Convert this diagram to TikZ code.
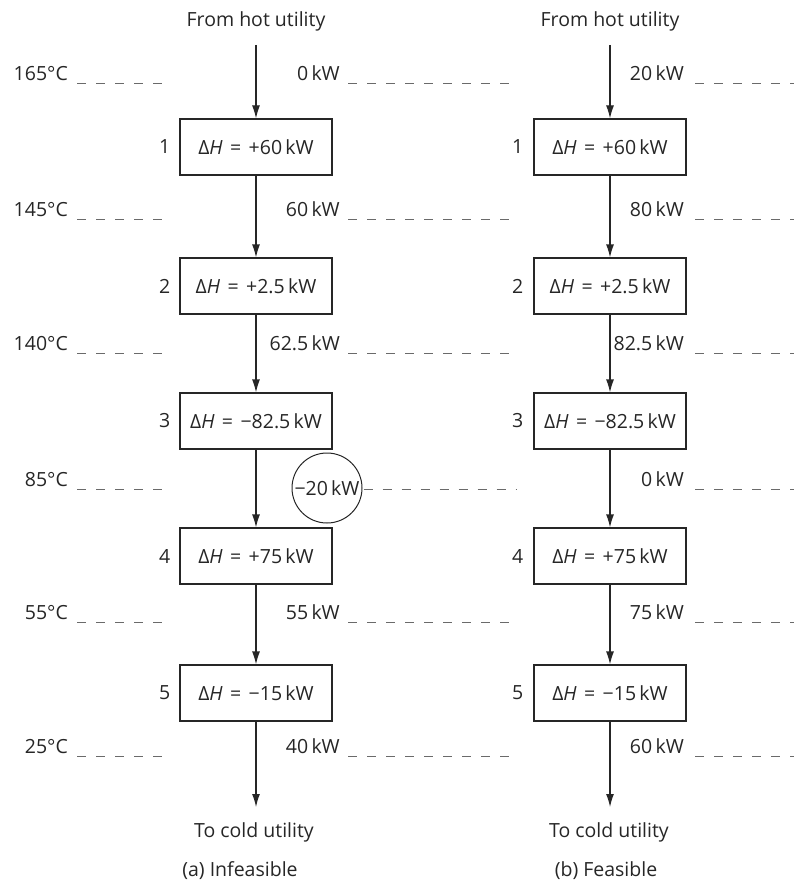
\documentclass[tikz,border=0pt]{standalone}
\usepackage{fontspec}
\setmainfont{Open Sans}
\usetikzlibrary{arrows.meta}
\definecolor{txt}{HTML}{262626}
\definecolor{lvl}{HTML}{6a6a6a}
\newcommand{\dH}[1]{Δ\textit{H}\hspace{0.38em}=\hspace{0.38em}#1\,kW}
\begin{document}
\begin{tikzpicture}[x=1pt,y=-1pt,
  font=\fontsize{19.5}{23}\selectfont, text=txt,
  box/.style={draw=txt, line width=1.2pt, minimum width=152pt, minimum height=56pt, inner sep=0pt},
  flow/.style={draw=txt, line width=1.2pt, -{Latex[length=13pt,width=8pt]}},
  lev/.style={draw=lvl, line width=1pt, dash pattern=on 9pt off 10pt},
  lab/.style={anchor=base east, inner sep=0pt},
  num/.style={anchor=east, inner sep=0pt},
  ttl/.style={anchor=base, inner sep=0pt},
  ring/.style={draw=txt, line width=1pt, circle, minimum size=70pt, inner sep=0pt}]
\useasboundingbox (0,0) rectangle (794,880);

% titles
\node[ttl] (ha) at (256,27) {From hot utility};
\node[ttl] (hb) at (610,27) {From hot utility};
\node[ttl] (ca) at (254,837) {To cold utility};
\node[ttl] (cb) at (609,837) {To cold utility};
\node[ttl] (sa) at (240,876) {(a) Infeasible};
\node[ttl] (sb) at (606,876) {(b) Feasible};

% boxes, column a
\node[box] (a1) at (256,147) {\dH{+60}};
\node[box] (a2) at (256,286) {\dH{+2.5}};
\node[box] (a3) at (256,421) {\dH{−82.5}};
\node[box] (a4) at (256,556) {\dH{+75}};
\node[box] (a5) at (256,693) {\dH{−15}};
% boxes, column b
\node[box] (b1) at (610,147) {\dH{+60}};
\node[box] (b2) at (610,286) {\dH{+2.5}};
\node[box] (b3) at (610,421) {\dH{−82.5}};
\node[box] (b4) at (610,556) {\dH{+75}};
\node[box] (b5) at (610,693) {\dH{−15}};

% interval numbers
\foreach \i in {1,...,5} {
  \node[num] (na\i) at ([xshift=-9pt]a\i.west) {\i};
  \node[num] (nb\i) at ([xshift=-10pt]b\i.west) {\i};
}

% flow arrows
\coordinate (sa0) at (256,45);
\coordinate (sb0) at (610,45);
\coordinate (ea0) at (256,807);
\coordinate (eb0) at (610,807);
\draw[flow] (sa0) -- (a1);
\draw[flow] (a1) -- (a2);
\draw[flow] (a2) -- (a3);
\draw[flow] (a3) -- (a4);
\draw[flow] (a4) -- (a5);
\draw[flow] (a5) -- (ea0);
\draw[flow] (sb0) -- (b1);
\draw[flow] (b1) -- (b2);
\draw[flow] (b2) -- (b3);
\draw[flow] (b3) -- (b4);
\draw[flow] (b4) -- (b5);
\draw[flow] (b5) -- (eb0);

% temperature levels
\foreach \y/\t/\qb [count=\k] in {84/165/20, 219/145/80, 353/140/82.5, 489/85/0, 622/55/75, 756/25/60} {
  \node[lab] (tt\k) at (68,\y-3) {\t°C};
  \draw[lev] (77,\y) -- (166,\y);
  \node[lab] (qb\k) at (684,\y-3) {\qb\,kW};
  \draw[lev] (695,\y) -- (794,\y);
}
\foreach \y/\qa [count=\k] in {84/0, 219/60, 353/62.5, 622/55, 756/40} {
  \node[lab] (qa\k) at (340,\y-3) {\qa\,kW};
  \draw[lev] (348,\y) -- (518,\y);
}
% infeasible circle
\node[ring] (neg) at (327,488) {−20\,kW};
\draw[lev] (neg.east) ++(1,1) -- (516,489);
\end{tikzpicture}
\end{document}
